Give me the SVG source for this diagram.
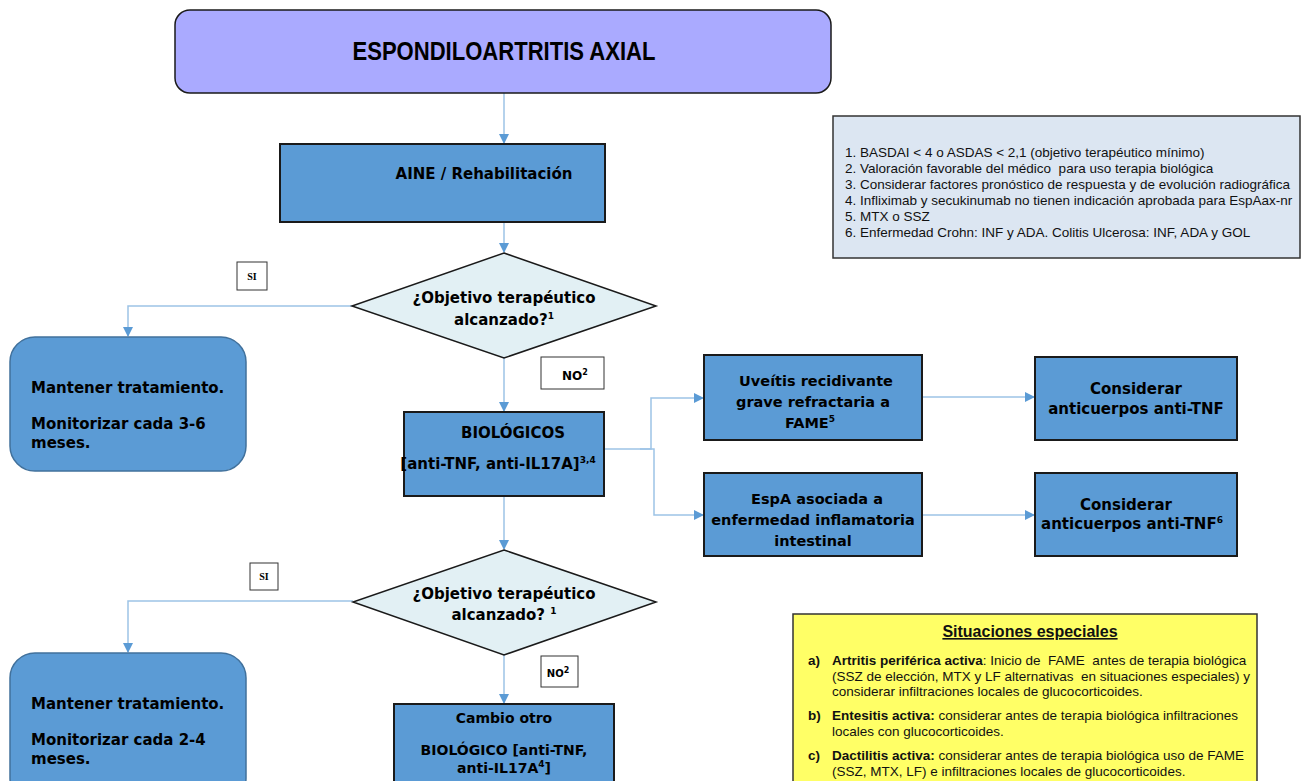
<svg xmlns="http://www.w3.org/2000/svg" width="1309" height="781" viewBox="0 0 1309 781">
<defs>
<marker id="ah" markerWidth="10" markerHeight="10" refX="9" refY="5" orient="auto" markerUnits="userSpaceOnUse">
<path d="M0,0 L10,5 L0,10 z" fill="#5b9bd5"/>
</marker>
<style>
.box{fill:#5b9bd5;stroke:#1a1a1a;stroke-width:2}
.rbox{fill:#5b9bd5;stroke:#41719c;stroke-width:1.5}
.dia{fill:#e2f0f4;stroke:#1a1a1a;stroke-width:1.5}
.lbl{fill:#ffffff;stroke:#333333;stroke-width:1}
.t{font-family:"DejaVu Sans",Verdana,sans-serif;font-weight:bold;font-size:15px;fill:#000}
.tc{text-anchor:middle}
.sm{font-family:"Liberation Serif",serif;font-weight:bold;font-size:10px;fill:#000;text-anchor:middle}
.n{font-family:"Liberation Sans",Arial,sans-serif;font-size:13.5px;fill:#111}
.c{fill:none;stroke:#9dc3e6;stroke-width:1.5}
.sup{font-size:9px}
</style>
</defs>

<g id="connectors">
<path class="c" d="M504,93 V143" marker-end="url(#ah)"/>
<path class="c" d="M504,222 V252" marker-end="url(#ah)"/>
<path class="c" d="M352,306 H128 V336" marker-end="url(#ah)"/>
<path class="c" d="M504,358 V411" marker-end="url(#ah)"/>
<path class="c" d="M604,449 H651 V398 H703" marker-end="url(#ah)"/>
<path class="c" d="M640,449 H654 V515 H703" marker-end="url(#ah)"/>
<path class="c" d="M922,397 H1034" marker-end="url(#ah)"/>
<path class="c" d="M922,515 H1034" marker-end="url(#ah)"/>
<path class="c" d="M504,496 V549" marker-end="url(#ah)"/>
<path class="c" d="M353,601 H128 V652" marker-end="url(#ah)"/>
<path class="c" d="M504,655 V703" marker-end="url(#ah)"/>
</g>

<g id="title">
<rect x="175" y="10" width="656" height="83" rx="15" fill="#aaaaff" stroke="#1a1a1a" stroke-width="1.5"/>
<text x="504" y="60" text-anchor="middle" font-family="'Liberation Sans',Arial,sans-serif" font-weight="bold" font-size="25" textLength="303" lengthAdjust="spacingAndGlyphs">ESPONDILOARTRITIS AXIAL</text>
</g>

<g id="aine">
<rect class="box" x="280" y="144" width="325" height="78"/>
<text class="t tc" x="484" y="179">AINE / Rehabilitación</text>
</g>

<g id="diamond1">
<polygon class="dia" points="504,253 656,306 504,358 352,306"/>
<text class="t tc" x="504" y="303">¿Objetivo terapéutico</text>
<text class="t tc" x="504" y="325">alcanzado?<tspan class="sup" dy="-6">1</tspan></text>
</g>

<g id="si1">
<rect class="lbl" x="237" y="262" width="30" height="28"/>
<text class="sm" x="252" y="280">SI</text>
</g>

<g id="mantener1">
<rect class="rbox" x="10" y="337" width="236" height="134" rx="25"/>
<text class="t" x="31" y="393">Mantener tratamiento.</text>
<text class="t" x="31" y="429">Monitorizar cada 3-6</text>
<text class="t" x="31" y="448">meses.</text>
</g>

<g id="no1">
<rect class="lbl" x="541" y="357" width="63" height="32"/>
<text class="t tc" x="575" y="380" style="font-size:12px">NO<tspan dy="-5" style="font-size:8px">2</tspan></text>
</g>

<g id="biologicos">
<rect class="box" x="404" y="412" width="200" height="84"/>
<text class="t tc" x="513" y="438">BIOLÓGICOS</text>
<text class="t tc" x="498" y="469">[anti-TNF, anti-IL17A]<tspan class="sup" dy="-6">3,4</tspan></text>
</g>

<g id="uveitis">
<rect class="box" x="704" y="355" width="218" height="85"/>
<text class="t tc" x="816" y="386" style="font-size:14.5px">Uveítis recidivante</text>
<text class="t tc" x="813" y="407" style="font-size:14.5px">grave refractaria a</text>
<text class="t tc" x="810" y="428" style="font-size:14.5px">FAME<tspan class="sup" dy="-6">5</tspan></text>
</g>

<g id="considerar1">
<rect class="box" x="1035" y="357" width="202" height="83"/>
<text class="t tc" x="1136" y="394">Considerar</text>
<text class="t tc" x="1136" y="414">anticuerpos anti-TNF</text>
</g>

<g id="espa">
<rect class="box" x="704" y="473" width="218" height="83"/>
<text class="t tc" x="817" y="504" style="font-size:14.5px">EspA asociada a</text>
<text class="t tc" x="813" y="525" style="font-size:14.5px">enfermedad inflamatoria</text>
<text class="t tc" x="813" y="546" style="font-size:14.5px">intestinal</text>
</g>

<g id="considerar2">
<rect class="box" x="1035" y="473" width="202" height="83"/>
<text class="t tc" x="1126" y="510">Considerar</text>
<text class="t tc" x="1132" y="529">anticuerpos anti-TNF<tspan class="sup" dy="-6">6</tspan></text>
</g>

<g id="diamond2">
<polygon class="dia" points="504,550 656,602 504,655 353,602"/>
<text class="t tc" x="504" y="599">¿Objetivo terapéutico</text>
<text class="t tc" x="504" y="620">alcanzado? <tspan class="sup" dy="-6">1</tspan></text>
</g>

<g id="si2">
<rect class="lbl" x="250" y="563" width="28" height="27"/>
<text class="sm" x="264" y="580">SI</text>
</g>

<g id="mantener2">
<rect class="rbox" x="10" y="653" width="236" height="150" rx="25"/>
<text class="t" x="31" y="709">Mantener tratamiento.</text>
<text class="t" x="31" y="745">Monitorizar cada 2-4</text>
<text class="t" x="31" y="764">meses.</text>
</g>

<g id="no2">
<rect class="lbl" x="541" y="656" width="37" height="31"/>
<text class="t tc" x="558" y="677" style="font-size:10px">NO<tspan dy="-4" style="font-size:8px">2</tspan></text>
</g>

<g id="cambio">
<rect class="box" x="394" y="704" width="220" height="90"/>
<text class="t tc" x="504" y="723" style="font-size:14px">Cambio otro</text>
<text class="t tc" x="504" y="755" style="font-size:14px">BIOLÓGICO [anti-TNF,</text>
<text class="t tc" x="504" y="773" style="font-size:14px">anti-IL17A<tspan class="sup" dy="-6">4</tspan><tspan dy="6">]</tspan></text>
</g>

<g id="notas">
<rect x="833" y="116" width="467" height="142" fill="#dce6f2" stroke="#333333" stroke-width="1.5"/>
<text class="n" x="845" y="157">1. BASDAI &lt; 4 o ASDAS &lt; 2,1 (objetivo terapéutico mínimo)</text>
<text class="n" x="845" y="173" xml:space="preserve">2. Valoración favorable del médico  para uso terapia biológica</text>
<text class="n" x="845" y="189">3. Considerar factores pronóstico de respuesta y de evolución radiográfica</text>
<text class="n" x="845" y="205">4. Infliximab y secukinumab no tienen indicación aprobada para EspAax-nr</text>
<text class="n" x="845" y="221">5. MTX o SSZ</text>
<text class="n" x="845" y="237">6. Enfermedad Crohn: INF y ADA. Colitis Ulcerosa: INF, ADA y GOL</text>
</g>

<g id="especiales">
<rect x="793" y="614" width="464" height="180" fill="#ffff66" stroke="#333333" stroke-width="1.5"/>
<text class="n" x="1030" y="637" text-anchor="middle" font-weight="bold" text-decoration="underline" style="font-size:16px">Situaciones especiales</text>
<text class="n" x="808" y="665" font-weight="bold">a)</text>
<text class="n" x="832" y="665" xml:space="preserve"><tspan font-weight="bold">Artritis periférica activa</tspan>: Inicio de  FAME  antes de terapia biológica</text>
<text class="n" x="832" y="681" xml:space="preserve">(SSZ de elección, MTX y LF alternativas  en situaciones especiales) y</text>
<text class="n" x="832" y="696">considerar infiltraciones locales de glucocorticoides.</text>
<text class="n" x="808" y="720" font-weight="bold">b)</text>
<text class="n" x="832" y="720"><tspan font-weight="bold">Entesitis activa:</tspan> considerar antes de terapia biológica infiltraciones</text>
<text class="n" x="832" y="736">locales con glucocorticoides.</text>
<text class="n" x="808" y="760" font-weight="bold">c)</text>
<text class="n" x="832" y="760"><tspan font-weight="bold">Dactilitis activa:</tspan> considerar antes de terapia biológica uso de FAME</text>
<text class="n" x="832" y="776">(SSZ, MTX, LF) e infiltraciones locales de glucocorticoides.</text>
</g>
</svg>
